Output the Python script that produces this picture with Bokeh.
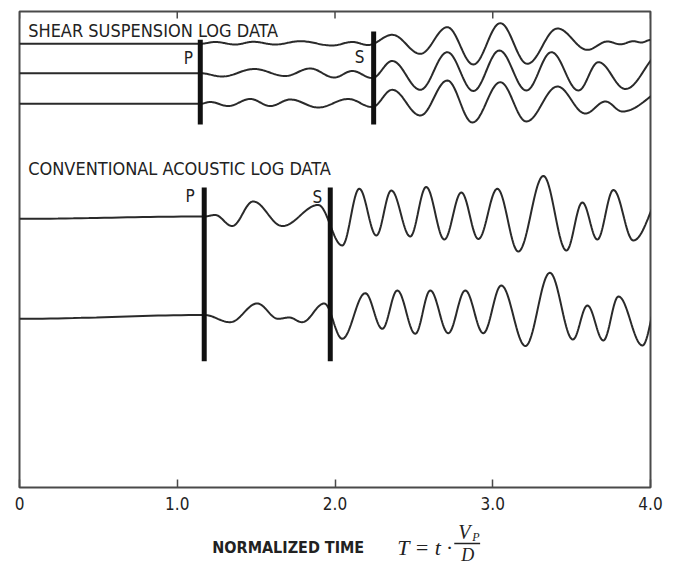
import numpy as np
from bokeh.plotting import figure
from bokeh.layouts import column
from bokeh.models import Label, FixedTicker, Range1d
from bokeh.embed import file_html
from bokeh.resources import INLINE

# ---- data (x: normalized time T, y: trace level in plot units, 0 = bottom of frame) ----
# extrema (peaks / troughs) for each waveform
shear1_t = [0.000, 1.146, 1.241, 1.368, 1.482, 1.621, 1.780, 1.983, 2.110, 2.211, 2.363, 2.541,
            2.712, 2.877, 3.048, 3.219, 3.410, 3.600, 3.727, 3.809, 3.892, 3.942, 4.000]
shear1_y = [443.7, 443.7, 445.5, 443.0, 445.7, 443.0, 446.3, 442.0, 445.5, 442.5, 452.7, 433.7,
            460.3, 423.0, 464.3, 423.7, 459.0, 437.7, 446.0, 443.2, 446.3, 445.0, 447.5]

shear2_t = [0.000, 1.146, 1.285, 1.488, 1.685, 1.843, 1.995, 2.110, 2.236, 2.363, 2.541, 2.712,
            2.877, 3.042, 3.213, 3.372, 3.543, 3.670, 3.841, 4.074]
shear2_y = [414.3, 414.3, 411.0, 418.5, 411.5, 419.0, 410.0, 416.5, 409.5, 426.5, 397.7, 435.3,
            396.5, 437.0, 397.0, 435.3, 397.0, 425.3, 398.5, 435.0]

shear3_t = [0.000, 1.146, 1.209, 1.323, 1.463, 1.590, 1.717, 1.894, 2.084, 2.236, 2.363, 2.541,
            2.712, 2.871, 3.048, 3.213, 3.410, 3.587, 3.714, 3.822, 4.138]
shear3_y = [383.7, 383.7, 385.5, 381.5, 388.5, 381.5, 388.0, 380.0, 388.5, 380.5, 397.7, 372.0,
            407.0, 365.0, 405.3, 366.0, 401.0, 374.0, 386.0, 376.0, 401.0]

convA_t = [0.000, 1.171, 1.240, 1.348, 1.481, 1.666, 1.894, 2.046, 2.154, 2.262, 2.357, 2.477,
           2.578, 2.693, 2.801, 2.909, 3.029, 3.162, 3.321, 3.467, 3.568, 3.663, 3.765, 3.891, 4.093]
convA_y = [268.7, 271.0, 272.5, 261.5, 286.0, 261.5, 282.5, 242.0, 298.7, 252.0, 297.0, 251.0,
           300.5, 248.0, 295.0, 248.5, 298.7, 236.0, 311.5, 237.0, 285.0, 248.0, 297.5, 247.0, 297.0]

convB_t = [0.000, 1.171, 1.336, 1.507, 1.640, 1.709, 1.792, 1.932, 2.046, 2.192, 2.300, 2.395,
           2.509, 2.604, 2.718, 2.826, 2.940, 3.054, 3.207, 3.362, 3.508, 3.600, 3.701, 3.797, 3.949, 4.055]
convB_y = [168.7, 172.5, 165.3, 184.0, 168.7, 170.0, 165.3, 184.0, 148.7, 194.3, 158.7, 197.0,
           153.7, 197.0, 154.3, 197.0, 154.3, 202.0, 141.5, 214.7, 148.0, 182.0, 147.0, 191.0, 142.0, 191.0]

# arrival markers (P and S) for each panel
shear_arrivals = [1.146, 2.245]
shear_bar_bottom = [363.0, 363.0]
shear_bar_top = [447.7, 456.0]
conv_arrivals = [1.171, 1.970]
conv_bar_bottom = [126.3, 126.3]
conv_bar_top = [300.0, 300.0]
arrival_names = ["P", "S"]

tick_values = [0, 1, 2, 3, 4]
tick_labels = ["0", "1.0", "2.0", "3.0", "4.0"]

NARROW = "DejaVu Sans Condensed"
SERIF = "Liberation Serif"
INK = "#222222"
FRAME = "#4a4a4a"


def smooth(ts, ys, n=24):
    """Draw a smooth wave through successive extrema (half-cosine between them)."""
    xs, yv = [ts[0]], [ys[0]]
    s = np.linspace(0, 1, n + 1)[1:]
    for i in range(len(ts) - 1):
        xs.extend(ts[i] + (ts[i + 1] - ts[i]) * s)
        yv.extend(ys[i] + (ys[i + 1] - ys[i]) * (1 - np.cos(np.pi * s)) / 2)
    return xs, yv


Y_TOP = 476
p = figure(width=672, height=517, x_range=Range1d(0, 4), y_range=Range1d(0, Y_TOP),
           output_backend="svg", toolbar_location=None, y_axis_location=None,
           min_border_left=19, min_border_right=22, min_border_top=11, min_border_bottom=30)
p.background_fill_color = "white"
p.border_fill_color = "white"
p.xgrid.visible = False
p.ygrid.visible = False
p.outline_line_color = FRAME
p.outline_line_width = 2

for ts, ys in [(shear1_t, shear1_y), (shear2_t, shear2_y), (shear3_t, shear3_y),
               (convA_t, convA_y), (convB_t, convB_y)]:
    xs, yv = smooth(ts, ys)
    p.line(xs, yv, line_color="#2a2a2a", line_width=2)

p.segment(x0=shear_arrivals, y0=shear_bar_bottom, x1=shear_arrivals, y1=shear_bar_top,
          line_color="#111111", line_width=5)
p.segment(x0=conv_arrivals, y0=conv_bar_bottom, x1=conv_arrivals, y1=conv_bar_top,
          line_color="#111111", line_width=5)

# bottom axis (inward ticks)
xa = p.xaxis[0]
xa.ticker = FixedTicker(ticks=tick_values)
xa.major_label_overrides = {v: l for v, l in zip(tick_values, tick_labels)}
xa.major_tick_in = 8
xa.major_tick_out = 0
xa.minor_tick_line_color = None
xa.axis_line_color = None
xa.major_tick_line_color = FRAME
xa.major_tick_line_width = 1.5
xa.major_label_standoff = 9
xa.major_label_text_font = NARROW
xa.major_label_text_font_size = "17px"
xa.major_label_text_color = INK

# matching inward ticks along the top edge
p.segment(x0=tick_values, y0=[Y_TOP] * len(tick_values), x1=tick_values,
          y1=[Y_TOP - 7] * len(tick_values), line_color=FRAME, line_width=1.5)

# panel titles
p.add_layout(Label(x=0.055, y=457.5, text="SHEAR SUSPENSION LOG DATA", text_font=NARROW,
                   text_font_size="18px", text_color=INK, text_baseline="middle"))
p.add_layout(Label(x=0.055, y=319.0, text="CONVENTIONAL ACOUSTIC LOG DATA", text_font=NARROW,
                   text_font_size="18px", text_color=INK, text_baseline="middle"))

# P / S labels
for xpos, name, yy, off in zip(shear_arrivals, arrival_names, [429.5, 430.3], [-12, -14]):
    p.add_layout(Label(x=xpos, y=yy, x_offset=off, text=name, text_font=NARROW, text_font_size="17px",
                       text_color=INK, text_align="center", text_baseline="middle"))
for xpos, name, yy, off in zip(conv_arrivals, arrival_names, [292.0, 290.3], [-14, -13]):
    p.add_layout(Label(x=xpos, y=yy, x_offset=off, text=name, text_font=NARROW, text_font_size="17px",
                       text_color=INK, text_align="center", text_baseline="middle"))

# ---- x-axis title strip: NORMALIZED TIME  T = t · V_P / D ----
q = figure(width=672, height=48, x_range=p.x_range, y_range=Range1d(0, 48),
           output_backend="svg", toolbar_location=None, x_axis_location=None, y_axis_location=None,
           min_border=0, min_border_left=19, min_border_right=22)
q.outline_line_color = None
q.xgrid.visible = False
q.ygrid.visible = False
q.background_fill_color = "white"
q.border_fill_color = "white"

q.add_layout(Label(x=1.222, y=18, text="NORMALIZED TIME", text_font=NARROW, text_font_style="bold",
                   text_font_size="16px", text_color=INK, text_baseline="middle"))
q.add_layout(Label(x=2.394, y=18, text="T = t ·", text_font=SERIF, text_font_style="italic",
                   text_font_size="22px", text_color=INK, text_baseline="middle"))
q.add_layout(Label(x=2.781, y=34, text="V", text_font=SERIF, text_font_style="italic",
                   text_font_size="20px", text_color=INK, text_baseline="middle"))
q.add_layout(Label(x=2.870, y=29, text="P", text_font=SERIF, text_font_style="italic",
                   text_font_size="12px", text_color=INK, text_baseline="middle"))
q.segment(x0=[2.756], y0=[22], x1=[2.920], y1=[22], line_color=INK, line_width=1.5)
q.add_layout(Label(x=2.800, y=11, text="D", text_font=SERIF, text_font_style="italic",
                   text_font_size="18px", text_color=INK, text_baseline="middle"))

layout = column(p, q, spacing=0)
open("out.html", "w").write(file_html(layout, INLINE))
